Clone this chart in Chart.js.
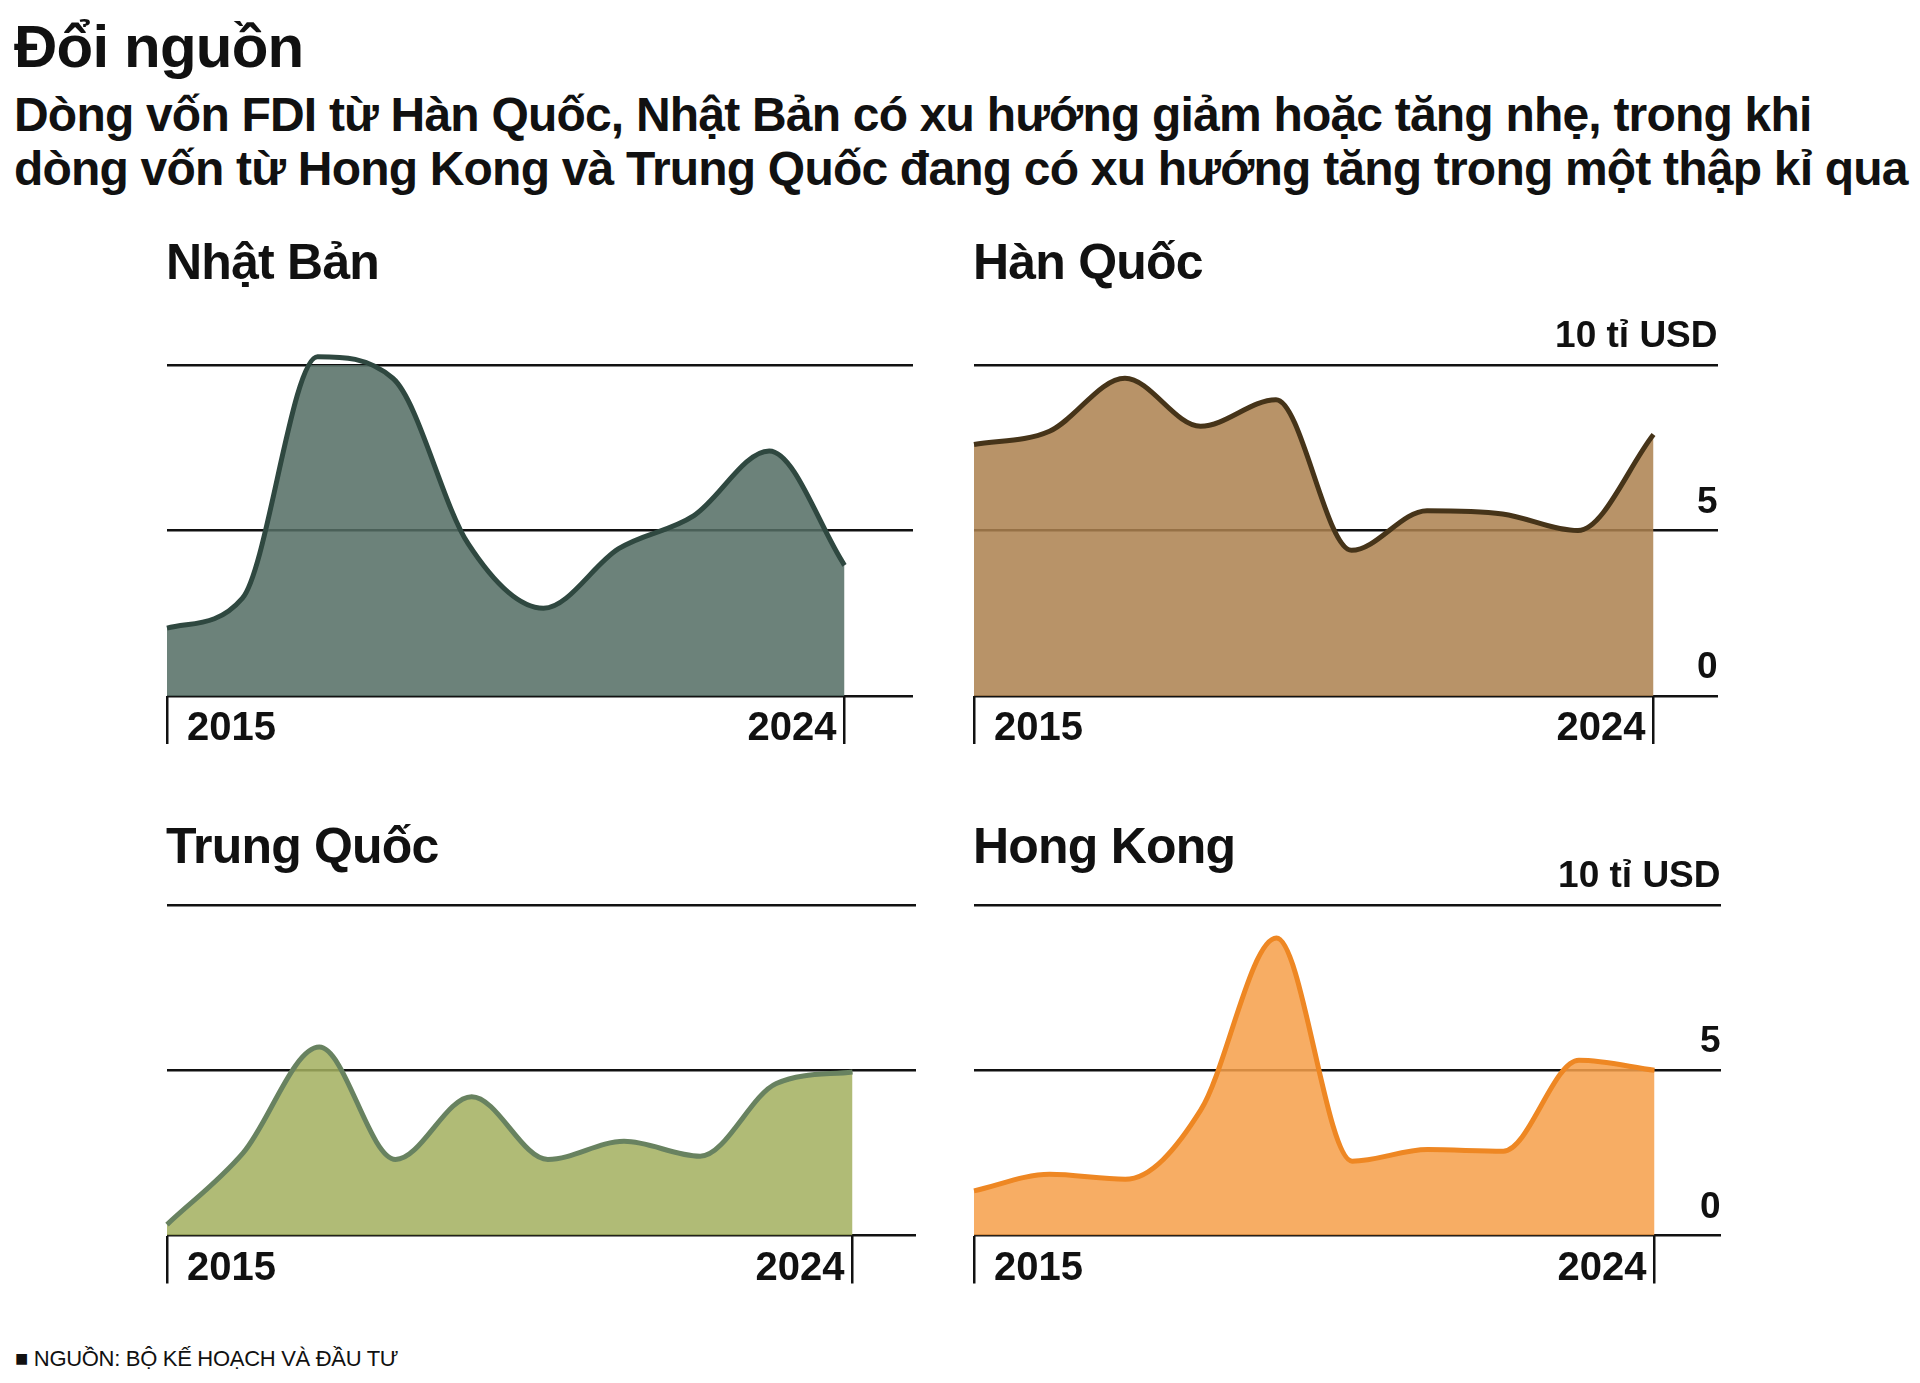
<!DOCTYPE html>
<html>
<head>
<meta charset="utf-8">
<script src="https://cdn.jsdelivr.net/npm/chart.js@4.4.1/dist/chart.umd.min.js"></script>
<style>
  body { margin: 0; background: #fff; width: 1920px; height: 1383px; position: relative; overflow: hidden;
         font-family: "Liberation Sans", Arial, sans-serif; color: #111; }
  .txt { position: absolute; margin: 0; white-space: nowrap; font-weight: bold; }
  #title { left: 14px; top: 17px; font-size: 60px; line-height: 60px; letter-spacing: -0.8px; }
  #sub { left: 14px; top: 88px; font-size: 48px; line-height: 54px; letter-spacing: -0.8px; }
  .ptitle { font-size: 50px; line-height: 50px; letter-spacing: -0.8px; }
  #src { left: 15px; top: 1348px; font-size: 22px; line-height: 22px; font-weight: normal; letter-spacing: -0.3px; }
  canvas { position: absolute; }
</style>
</head>
<body>
<h1 class="txt" id="title">Đổi nguồn</h1>
<p class="txt" id="sub">Dòng vốn FDI từ Hàn Quốc, Nhật Bản có xu hướng giảm hoặc tăng nhẹ, trong khi<br>dòng vốn từ Hong Kong và Trung Quốc đang có xu hướng tăng trong một thập kỉ qua</p>

<div class="txt ptitle" style="left:166px;top:237px">Nhật Bản</div>
<div class="txt ptitle" style="left:973px;top:237px">Hàn Quốc</div>
<div class="txt ptitle" style="left:166px;top:821px">Trung Quốc</div>
<div class="txt ptitle" style="left:973px;top:821px">Hong Kong</div>

<canvas id="c1" width="800" height="460"></canvas>
<canvas id="c2" width="800" height="460"></canvas>
<canvas id="c3" width="800" height="460"></canvas>
<canvas id="c4" width="800" height="460"></canvas>

<div class="txt" id="src">■ NGUỒN: BỘ KẾ HOẠCH VÀ ĐẦU TƯ</div>

<script>
// FDI, tỉ USD
const years = [2015, 2016, 2017, 2018, 2019, 2020, 2021, 2022, 2023, 2024];
const nhatBan = [2.05, 2.95, 10.25, 9.6, 4.6, 2.65, 4.45, 5.45, 7.4, 3.95];
const hanQuoc = [7.6, 8.0, 9.6, 8.15, 8.95, 4.4, 5.6, 5.5, 5.0, 7.9];
const trungQuoc = [0.33, 2.5, 5.7, 2.3, 4.2, 2.3, 2.85, 2.4, 4.6, 4.95];
const hongKong = [1.35, 1.85, 1.7, 3.8, 9.0, 2.25, 2.6, 2.55, 5.3, 5.0];
const yTicks = [0, 5, 10];
const xTickYears = [2015, 2024];
const unitLabel = '10 tỉ USD';

// chart area of each panel on the page (end = pixel of the last year)
const panels = [
  { id: 'c1', values: nhatBan, fill: 'rgba(84,110,100,0.86)', line: '#2f4840', yLabels: false,
    box: { left: 166.5, top: 365, right: 912, bottom: 696, end: 844 } },
  { id: 'c2', values: hanQuoc, fill: 'rgba(172,129,79,0.86)', line: '#463419', yLabels: true,
    box: { left: 973.5, top: 365, right: 1717, bottom: 696, end: 1653 } },
  { id: 'c3', values: trungQuoc, fill: 'rgba(163,176,96,0.86)', line: '#688260', yLabels: false,
    box: { left: 166.5, top: 905, right: 915, bottom: 1235.5, end: 852 } },
  { id: 'c4', values: hongKong, fill: 'rgba(246,160,75,0.86)', line: '#ee8723', yLabels: true,
    box: { left: 973.5, top: 905, right: 1720, bottom: 1235.5, end: 1654 } }
];

const ink = '#111';
const pad = { top: 64, right: 10, bottom: 10, left: 6 };

panels.forEach(p => {
  const b = p.box;
  const xMax = years[0] + (years[years.length - 1] - years[0]) * (b.right - b.left) / (b.end - b.left);
  const canvas = document.getElementById(p.id);

  const chart = new Chart(canvas, {
    type: 'line',
    data: {
      datasets: [{
        data: years.map((y, i) => ({ x: y, y: p.values[i] })),
        fill: 'origin',
        backgroundColor: p.fill,
        borderColor: p.line,
        borderWidth: 5,
        borderJoinStyle: 'round',
        pointRadius: 0,
        cubicInterpolationMode: 'monotone',
        clip: { left: 3, right: 3, top: 40, bottom: 3 }
      }]
    },
    options: {
      responsive: false,
      maintainAspectRatio: false,
      animation: false,
      layout: { padding: Object.assign({}, pad) },
      plugins: { legend: { display: false }, tooltip: { enabled: false } },
      scales: {
        x: {
          type: 'linear',
          min: years[0],
          max: xMax,
          afterBuildTicks: s => { s.ticks = xTickYears.map(v => ({ value: v })); },
          afterFit: s => { s.height = 60; },
          border: { display: false },
          grid: { drawOnChartArea: false, drawTicks: true, tickLength: 48, color: ink, lineWidth: 2.5 },
          ticks: {
            align: 'inner',
            maxRotation: 0,
            autoSkip: false,
            padding: -39,
            color: ink,
            font: { family: 'Liberation Sans', weight: 'bold', size: 40 },
            callback: (v, i) => i === 0 ? '\u2002' + v : v + '\u2009'
          }
        },
        y: {
          min: 0,
          max: 10,
          position: 'right',
          afterBuildTicks: s => { s.ticks = yTicks.map(v => ({ value: v })); },
          border: { display: false },
          grid: { color: ink, lineWidth: 2.5, drawTicks: false },
          ticks: {
            display: p.yLabels,
            mirror: true,
            padding: 0,
            labelOffset: -28,
            color: ink,
            font: { family: 'Liberation Sans', weight: 'bold', size: 37 },
            callback: v => v === 10 ? unitLabel : String(v)
          }
        }
      }
    }
  });

  // fit chart area to the target box, then place the canvas
  const a = chart.chartArea;
  chart.options.layout.padding = {
    top: pad.top,
    left: pad.left,
    right: pad.right + (a.right - a.left) - (b.right - b.left),
    bottom: pad.bottom + (a.bottom - a.top) - (b.bottom - b.top)
  };
  chart.update();
  const a2 = chart.chartArea;
  canvas.style.left = (b.left - a2.left) + 'px';
  canvas.style.top = (b.top - a2.top) + 'px';
});
</script>
</body>
</html>
